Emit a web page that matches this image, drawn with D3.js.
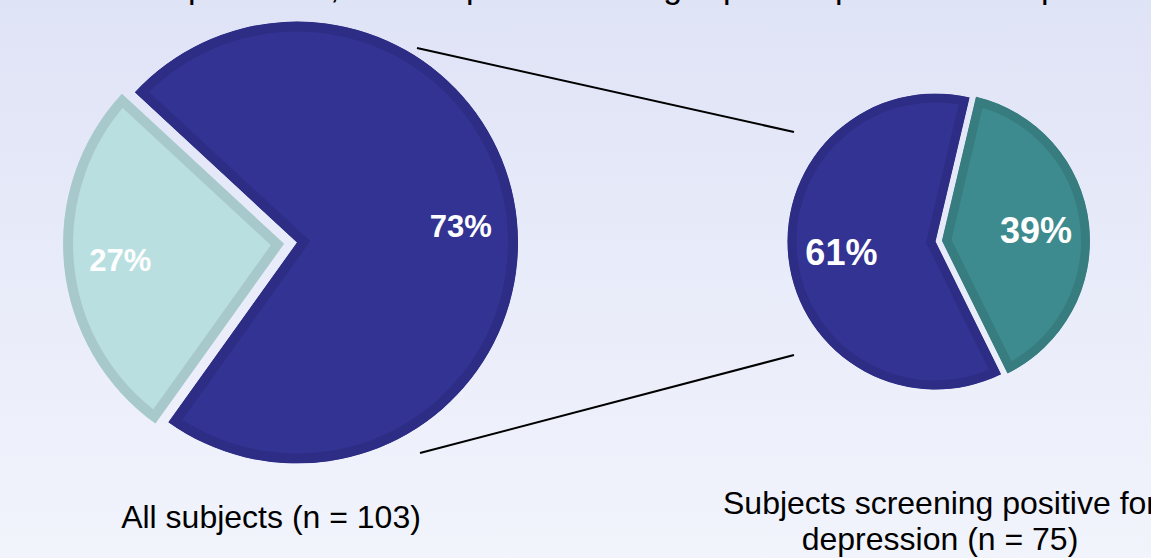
<!DOCTYPE html>
<html>
<head>
<meta charset="utf-8">
<script src="https://cdn.jsdelivr.net/npm/d3@7"></script>
<style>
  body { margin: 0; overflow: hidden; }
  svg { display: block; }
</style>
</head>
<body>
<div id="chart"></div>
<script>
// data
const leftCategories = ["Screening positive for depression", "Screening negative"];
const leftValues = [73, 27];
const rightCategories = ["Group A", "Group B"];
const rightValues = [61, 39];
const leftCaption = ["All subjects (n = 103)"];
const rightCaption = ["Subjects screening positive for", "depression (n = 75)"];
// title sits above the top edge, only descenders show
const titleWords = ["Of all ", "patients", ", most", "preferred ", "long", "plus", "peer", "plans"];

const width = 1151, height = 558;
const font = "'Liberation Sans', Arial, sans-serif";

const svg = d3.select("#chart")
  .append("svg")
  .attr("width", width)
  .attr("height", height);

const defs = svg.append("defs");
const bg = defs.append("linearGradient")
  .attr("id", "bg")
  .attr("x1", 0).attr("y1", 0).attr("x2", 0).attr("y2", 1);
bg.append("stop").attr("offset", "0%").attr("stop-color", "#dfe3f6");
bg.append("stop").attr("offset", "100%").attr("stop-color", "#f2f4fc");

svg.append("rect")
  .attr("width", width)
  .attr("height", height)
  .attr("fill", "url(#bg)");

// clipped title
const titleX = [60, 188, 330, 466, 618, 723, 835, 1041];
const title = svg.append("text")
  .attr("y", -2)
  .style("font-family", font)
  .style("font-size", "34px")
  .attr("fill", "#000");
titleWords.forEach((w, i) => {
  title.append("tspan").attr("x", titleX[i]).text(w);
});

// connector lines between the pies
const connectors = [
  [[417, 48], [794, 132]],
  [[420, 453], [794, 355]]
];
svg.selectAll("line.conn")
  .data(connectors)
  .join("line")
  .attr("class", "conn")
  .attr("x1", d => d[0][0]).attr("y1", d => d[0][1])
  .attr("x2", d => d[1][0]).attr("y2", d => d[1][1])
  .attr("stroke", "#000")
  .attr("stroke-width", 2);

const fmt = v => `${v}%`;

function drawPie(cfg) {
  const pie = d3.pie()
    .sort(null)
    .startAngle(cfg.start)
    .endAngle(cfg.start + 2 * Math.PI);
  const arc = d3.arc().innerRadius(0).outerRadius(cfg.r);

  pie(cfg.values).forEach((a, i) => {
    const mid = (a.startAngle + a.endAngle) / 2;
    const off = cfg.explode[i];
    const g = svg.append("g")
      .attr("transform", `translate(${cfg.cx + Math.sin(mid) * off},${cfg.cy - Math.cos(mid) * off})`);

    // inner border: stroke clipped to the slice itself
    const id = `clip-${cfg.key}-${i}`;
    g.append("clipPath").attr("id", id)
      .append("path").attr("d", arc(a));

    g.append("path")
      .attr("d", arc(a))
      .attr("fill", cfg.fills[i])
      .attr("stroke", cfg.strokes[i])
      .attr("stroke-width", cfg.border * 2)
      .attr("stroke-linejoin", "miter")
      .attr("clip-path", `url(#${id})`);

    const lr = cfg.r * cfg.labelR;
    g.append("text")
      .attr("x", Math.sin(mid) * lr)
      .attr("y", -Math.cos(mid) * lr)
      .attr("dy", "0.35em")
      .attr("text-anchor", "middle")
      .attr("fill", "#fff")
      .style("font-family", font)
      .style("font-weight", "bold")
      .style("font-size", cfg.fontSize + "px")
      .text(fmt(cfg.values[i]));
  });
}

drawPie({
  key: "left", values: leftValues,
  cx: 297, cy: 242.5, r: 221,
  start: -47.2 * Math.PI / 180,
  explode: [0, 13],
  fills: ["#333393", "#b9dfe0"],
  strokes: ["#2e2d85", "#a8c9cb"],
  border: 10, labelR: 0.745, fontSize: 31
});

drawPie({
  key: "right", values: rightValues,
  cx: 935.5, cy: 241.5, r: 148,
  start: 153.7 * Math.PI / 180,
  explode: [0, 6.5],
  fills: ["#333393", "#3d8b8e"],
  strokes: ["#2e2d85", "#377d80"],
  border: 9, labelR: 0.64, fontSize: 36
});

// captions
function caption(lines, x, y0) {
  const t = svg.append("text")
    .attr("text-anchor", "middle")
    .attr("fill", "#000")
    .style("font-family", font)
    .style("font-size", "32px");
  lines.forEach((l, i) => {
    t.append("tspan").attr("x", x).attr("y", y0 + i * 36).text(l);
  });
}
caption(leftCaption, 271, 528);
caption(rightCaption, 940, 514);
</script>
</body>
</html>
